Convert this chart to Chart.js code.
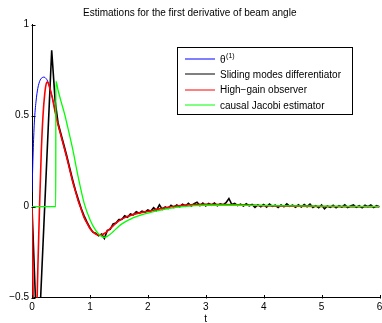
<!DOCTYPE html>
<html>
<head>
<meta charset="utf-8">
<script src="https://cdn.jsdelivr.net/npm/chart.js@4"></script>
<style>
  html, body { margin: 0; padding: 0; background: #fff; }
  #chart { display: block; }
</style>
</head>
<body>
<canvas id="chart" width="382" height="323"></canvas>
<script>
// ============================================
// DATA
// ============================================

const chartTitle = 'Estimations for the first derivative of beam angle';
const xTitle = 't';
const seriesLabels = ['θ^(1)', 'Sliding modes differentiator', 'High\u2212gain observer', 'causal Jacobi estimator'];
const seriesColors = ['#0000ff', '#000000', '#ff0000', '#00ff00'];
const xTicks = [0, 1, 2, 3, 4, 5, 6];
const yTicks = [-0.5, 0, 0.5, 1];

// true derivative theta^(1)
const tBlue = [0, 0.02, 0.04, 0.07, 0.10, 0.14, 0.18, 0.21, 0.24, 0.27, 0.30, 0.35, 0.40,
    0.45, 0.50, 0.55, 0.60, 0.65, 0.70, 0.75, 0.80, 0.85, 0.90, 0.95, 1.00, 1.05, 1.10, 1.15, 1.20,
    1.25, 1.30, 1.35, 1.40, 1.45, 1.50, 1.60, 1.70, 1.80, 1.90, 2.00, 2.10, 2.20, 2.30, 2.40, 2.50,
    2.60, 2.70, 2.80, 3.00, 3.30, 3.60, 4.00, 4.50, 5.00, 5.50, 6.00];
const yBlue = [0.08, 0.30, 0.46, 0.58, 0.65, 0.695, 0.71, 0.712, 0.705, 0.69, 0.66, 0.60, 0.525,
    0.45, 0.39, 0.33, 0.27, 0.205, 0.14, 0.085, 0.03, -0.015, -0.06, -0.09, -0.12, -0.138, -0.15, -0.157, -0.155,
    -0.147, -0.135, -0.12, -0.105, -0.091, -0.078, -0.06, -0.048, -0.038, -0.031, -0.026, -0.019, -0.012, -0.006, 0.0, 0.004,
    0.008, 0.01, 0.012, 0.013, 0.012, 0.01, 0.006, 0.003, 0.001, 0, 0];

// sliding modes differentiator (noisy)
const tBlack = [0, 0.10, 0.34, 0.37, 0.40,
    0.45, 0.50, 0.55, 0.60, 0.65, 0.70, 0.75, 0.80, 0.85, 0.90, 0.95, 1.00, 1.05, 1.10, 1.15, 1.20,
    1.25, 1.30, 1.35, 1.40, 1.45, 1.50, 1.55, 1.60, 1.65, 1.70, 1.75, 1.80, 1.85, 1.90, 1.95, 2.00,
    2.05, 2.10, 2.15, 2.20, 2.25, 2.30, 2.35, 2.40, 2.45, 2.50, 2.55, 2.60, 2.65, 2.70, 2.75, 2.80,
    2.85, 2.90, 2.95, 3.00, 3.05, 3.10, 3.15, 3.20, 3.25, 3.30, 3.35, 3.40, 3.45, 3.50, 3.55, 3.60,
    3.65, 3.70, 3.75, 3.80, 3.85, 3.90, 3.95, 4.00, 4.05, 4.10, 4.15, 4.20, 4.25, 4.30, 4.35, 4.40,
    4.45, 4.50, 4.55, 4.60, 4.65, 4.70, 4.75, 4.80, 4.85, 4.90, 4.95, 5.00, 5.05, 5.10, 5.15, 5.20,
    5.25, 5.30, 5.35, 5.40, 5.45, 5.50, 5.55, 5.60, 5.65, 5.70, 5.75, 5.80, 5.85, 5.90, 5.95, 6.00];
const yBlack = [0, -0.85, 0.86, 0.72, 0.58,
    0.46, 0.40, 0.34, 0.28, 0.215, 0.15, 0.09, 0.04, -0.01, -0.05, -0.085, -0.115, -0.14, -0.145, -0.16, -0.15,
    -0.175, -0.13, -0.125, -0.095, -0.09, -0.07, -0.07, -0.05, -0.058, -0.04, -0.045, -0.028, -0.036, -0.025, -0.03, -0.018,
    -0.025, -0.005, -0.02, 0.01, -0.015, -0.002, -0.01, 0.008, -0.004, 0.01, 0.0, 0.014, 0.003, 0.018, 0.004, 0.016,
    0.025, 0.006, 0.02, 0.004, 0.018, 0.008, 0.02, 0.005, 0.015, 0.01, 0.022, 0.045, 0.012, 0.018, 0.006, 0.014,
    0.004, 0.016, 0.005, 0.012, -0.004, 0.01, 0.0, 0.012, -0.002, 0.014, 0.002, 0.008, -0.004, 0.01, 0.0, 0.016,
    0.002, 0.008, -0.003, 0.01, -0.002, 0.012, 0.0, 0.014, -0.004, 0.006, -0.006, 0.01, -0.012, 0.004, -0.004, 0.008,
    -0.006, 0.006, -0.002, 0.01, -0.004, 0.004, 0.01, -0.003, 0.006, -0.006, 0.008, 0.0, 0.01, -0.004, 0.006, 0.0];

// high-gain observer
const tRed = [0, 0.02, 0.05, 0.08, 0.10, 0.13, 0.16, 0.19, 0.22, 0.25, 0.27, 0.30, 0.35, 0.40,
    0.45, 0.50, 0.55, 0.60, 0.65, 0.70, 0.75, 0.80, 0.85, 0.90, 0.95, 1.00, 1.05, 1.10, 1.15, 1.20,
    1.25, 1.30, 1.35, 1.40, 1.45, 1.50, 1.60, 1.70, 1.80, 1.90, 2.00, 2.10, 2.20, 2.30, 2.40, 2.50,
    2.60, 2.70, 2.80, 3.00, 3.30, 3.60, 4.00, 4.50, 5.00, 5.50, 6.00];
const yRed = [0, -0.5, -0.8, -0.6, -0.35, 0.0, 0.30, 0.50, 0.62, 0.68, 0.685, 0.66, 0.60, 0.52,
    0.45, 0.39, 0.33, 0.27, 0.205, 0.14, 0.085, 0.03, -0.015, -0.06, -0.09, -0.12, -0.138, -0.15, -0.157, -0.155,
    -0.147, -0.135, -0.12, -0.105, -0.091, -0.078, -0.06, -0.048, -0.038, -0.031, -0.026, -0.019, -0.012, -0.006, 0.0, 0.004,
    0.008, 0.01, 0.012, 0.013, 0.012, 0.01, 0.006, 0.003, 0.001, 0, 0];

// causal Jacobi estimator (delayed, zero until the window is filled)
const tGreen = [0, 0.41, 0.412, 0.45, 0.50, 0.57, 0.60, 0.70, 0.80, 0.90, 1.00, 1.10, 1.20, 1.25, 1.30,
    1.40, 1.50, 1.60, 1.70, 1.80, 1.90, 2.00, 2.20, 2.40, 2.60, 2.80, 3.00, 3.50, 4.00, 5.00, 6.00];
const yGreen = [0, 0, 0.69, 0.64, 0.58, 0.50, 0.46, 0.32, 0.16, 0.02, -0.07, -0.13, -0.163, -0.168, -0.163,
    -0.138, -0.107, -0.085, -0.068, -0.055, -0.044, -0.035, -0.02, -0.008, 0.0, 0.006, 0.008, 0.008, 0.006, 0.003, 0.002];

// ============================================
// HELPERS
// ============================================

const FONT = "'Liberation Sans', Arial, Helvetica, sans-serif";

function toPoints(ts, ys) {
    return ts.map((t, i) => ({ x: t, y: ys[i] }));
}

function fmtTick(v) {
    if (v < 0) return '\u2212' + Math.abs(v);
    return String(v);
}

// MATLAB style ticks pointing into the axes
const inwardTicks = {
    id: 'inwardTicks',
    afterDraw(chart) {
        const ctx = chart.ctx;
        const area = chart.chartArea;
        const xs = chart.scales.x;
        const ys = chart.scales.y;
        ctx.save();
        ctx.strokeStyle = '#000';
        ctx.lineWidth = 1;
        ctx.beginPath();
        xTicks.forEach(v => {
            const px = Math.round(xs.getPixelForValue(v)) + 0.5;
            ctx.moveTo(px, Math.round(area.bottom) + 0.5);
            ctx.lineTo(px, Math.round(area.bottom) - 3);
        });
        yTicks.forEach(v => {
            const py = Math.round(ys.getPixelForValue(v)) + 0.5;
            ctx.moveTo(Math.round(area.left) - 0.5, py);
            ctx.lineTo(Math.round(area.left) + 3.5, py);
        });
        ctx.stroke();
        ctx.restore();
    }
};

// legend box in the upper right, drawn from the datasets
const boxLegend = {
    id: 'boxLegend',
    afterDraw(chart) {
        const ctx = chart.ctx;
        const bx = 177.5, by = 47.5, bw = 175, bh = 67;
        const rows = [59, 74.3, 89.6, 104.8];
        ctx.save();
        ctx.fillStyle = '#fff';
        ctx.fillRect(bx, by, bw, bh);
        ctx.strokeStyle = '#000';
        ctx.lineWidth = 1;
        ctx.strokeRect(bx, by, bw, bh);
        ctx.textBaseline = 'middle';
        ctx.textAlign = 'left';
        chart.data.datasets.forEach((ds, i) => {
            const y = rows[i];
            ctx.strokeStyle = ds.borderColor;
            ctx.lineWidth = 1;
            ctx.beginPath();
            ctx.moveTo(185, Math.round(y));
            ctx.lineTo(215, Math.round(y));
            ctx.stroke();
            ctx.fillStyle = '#000';
            const parts = ds.label.split('^');
            ctx.font = '10px ' + FONT;
            ctx.fillText(parts[0], 220, y + 1);
            if (parts[1]) {
                const w = ctx.measureText(parts[0]).width;
                ctx.font = '7px ' + FONT;
                ctx.fillText(parts[1], 220 + w + 0.5, y - 3);
            }
        });
        ctx.restore();
    }
};

// ============================================
// CHART
// ============================================

const ctx = document.getElementById('chart');

new Chart(ctx, {
    type: 'scatter',
    data: {
        datasets: [
            {
                label: seriesLabels[0],
                data: toPoints(tBlue, yBlue),
                borderColor: seriesColors[0],
                borderWidth: 1,
                cubicInterpolationMode: 'monotone',
                order: 3
            },
            {
                label: seriesLabels[1],
                data: toPoints(tBlack, yBlack),
                borderColor: seriesColors[1],
                borderWidth: 1.6,
                tension: 0,
                order: 2
            },
            {
                label: seriesLabels[2],
                data: toPoints(tRed, yRed),
                borderColor: seriesColors[2],
                borderWidth: 1.6,
                cubicInterpolationMode: 'monotone',
                order: 1
            },
            {
                label: seriesLabels[3],
                data: toPoints(tGreen, yGreen),
                borderColor: seriesColors[3],
                borderWidth: 1.3,
                cubicInterpolationMode: 'monotone',
                order: 0
            }
        ]
    },
    options: {
        responsive: false,
        animation: false,
        devicePixelRatio: 1,
        showLine: true,
        elements: {
            point: { radius: 0, hoverRadius: 0 },
            line: { fill: false }
        },
        layout: {
            padding: { left: 0, right: 2.5, top: 0, bottom: 0 }
        },
        plugins: {
            legend: { display: false },
            tooltip: { enabled: false },
            title: {
                display: true,
                text: chartTitle,
                color: '#000',
                font: { family: FONT, size: 10, weight: 'normal' },
                padding: { top: 7, bottom: 5.7 }
            }
        },
        scales: {
            x: {
                type: 'linear',
                min: 0,
                max: 6,
                afterBuildTicks: s => { s.ticks = xTicks.map(v => ({ value: v })); },
                afterFit: s => { s.height = 25.3; s.paddingLeft = 0; s.paddingRight = 0; },
                grid: { display: false, drawTicks: false },
                border: { display: true, color: '#000', width: 1 },
                ticks: {
                    color: '#000',
                    padding: 4,
                    maxRotation: 0,
                    font: { family: FONT, size: 10 },
                    callback: v => fmtTick(v)
                },
                title: {
                    display: true,
                    text: xTitle,
                    color: '#000',
                    font: { family: FONT, size: 10 },
                    padding: { top: 0, bottom: -2 }
                }
            },
            y: {
                type: 'linear',
                min: -0.5,
                max: 1,
                afterBuildTicks: s => { s.ticks = yTicks.map(v => ({ value: v })); },
                afterFit: s => { s.width = 32; s.paddingTop = 0; s.paddingBottom = 0; },
                grid: { display: false, drawTicks: false },
                border: { display: true, color: '#000', width: 1 },
                ticks: {
                    color: '#000',
                    padding: 3,
                    font: { family: FONT, size: 10 },
                    callback: v => fmtTick(v)
                }
            }
        }
    },
    plugins: [inwardTicks, boxLegend]
});
</script>
</body>
</html>
